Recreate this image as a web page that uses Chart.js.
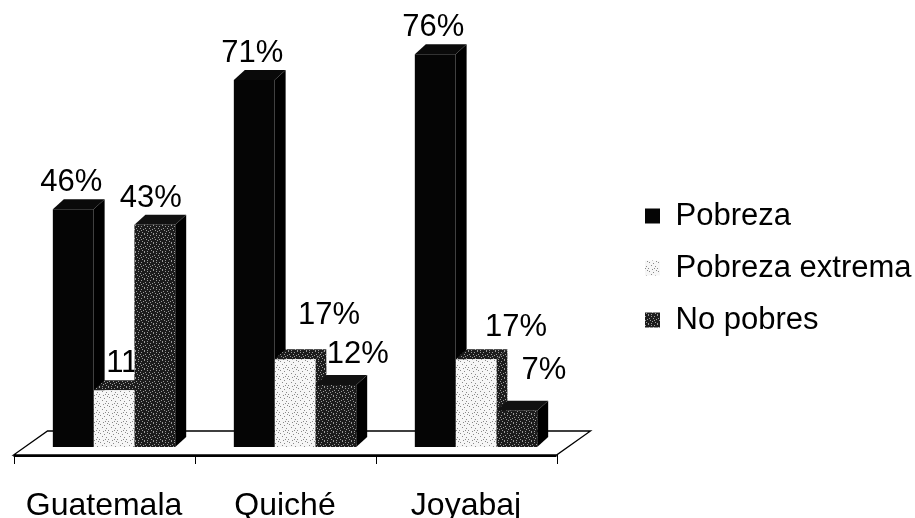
<!DOCTYPE html>
<html>
<head>
<meta charset="utf-8">
<script src="https://cdn.jsdelivr.net/npm/chart.js@4/dist/chart.umd.min.js"></script>
<style>
html,body{margin:0;padding:0;background:#fff;}
#wrap{width:915px;height:518px;}
</style>
</head>
<body>
<div id="wrap"><canvas id="c" width="915" height="518"></canvas></div>
<script>
// ---- data ----
const categories = ['Guatemala', 'Quiché', 'Joyabaj'];
const seriesNames = ['Pobreza', 'Pobreza extrema', 'No pobres'];
const pobreza = [46, 71, 76];
const pobrezaExtrema = [11, 17, 17];
const noPobres = [43, 12, 7];
const yMin = 0;
const yMax = 83;

// ---- textures ----
function makePattern(base, dot, pts) {
  const c = document.createElement('canvas');
  c.width = 9; c.height = 9;
  const g = c.getContext('2d');
  g.fillStyle = base; g.fillRect(0, 0, 9, 9);
  g.fillStyle = dot;
  pts.forEach(p => g.fillRect(p[0], p[1], 1, 1));
  return g.createPattern(c, 'repeat');
}
const lightDots = [[1,1],[5,2],[3,4],[7,5],[0,7],[4,8],[8,0],[6,7]];
const darkDots = [[0,0],[3,1],[6,1],[1,3],[5,3],[8,4],[2,5],[4,6],[7,7],[0,8],[6,5],[3,8]];
const lightPat = makePattern('#f6f6f6', '#8a8a8a', lightDots);
const darkPat = makePattern('#1c1c1c', '#9a9a9a', darkDots);

const FONT = "'Liberation Sans', Arial, Helvetica, sans-serif";

// ---- 3D faces, floor and value labels ----
const DX = 11, DY = 10;
const threeD = {
  id: 'threeD',
  beforeDatasetsDraw(chart, args, opts) {
    const {ctx, chartArea} = chart;
    const {left, right, bottom} = chartArea;
    const n = chart.data.labels.length;
    const fF = bottom + 8, fB = bottom - 16, o1 = -10, o2 = 24;
    ctx.save();
    ctx.beginPath();
    ctx.moveTo(left + o1, fF);
    ctx.lineTo(right + o1, fF);
    ctx.lineTo(right + o2, fB);
    ctx.lineTo(left + o2, fB);
    ctx.closePath();
    ctx.fillStyle = '#fff';
    ctx.fill();
    ctx.lineWidth = 1.3;
    ctx.strokeStyle = '#000';
    ctx.stroke();
    ctx.beginPath();
    ctx.lineWidth = 2.2;
    ctx.moveTo(left + o1, fF + 1);
    ctx.lineTo(right + o1, fF + 1);
    ctx.stroke();
    ctx.lineWidth = 1;
    const step = (right - left) / n;
    for (let i = 0; i <= n; i++) {
      const x = Math.round(left + o1 + i * step) + 0.5;
      ctx.beginPath();
      ctx.moveTo(x, fF);
      ctx.lineTo(x, fF + 9);
      ctx.stroke();
    }
    // side and top faces, category by category, left to right
    const metas = chart.data.datasets.map((d, i) => chart.getDatasetMeta(i));
    for (let j = 0; j < n; j++) {
      metas.forEach((meta, di) => {
        const el = meta.data[j];
        if (!el) return;
        const l = el.x - el.width / 2, r = el.x + el.width / 2, t = el.y, b = el.base;
        const st = opts.faces[di];
        ctx.beginPath();
        ctx.moveTo(r, t); ctx.lineTo(r + DX, t - DY); ctx.lineTo(r + DX, b - DY); ctx.lineTo(r, b);
        ctx.closePath();
        ctx.fillStyle = st.side; ctx.fill();
        ctx.beginPath();
        ctx.moveTo(l, t); ctx.lineTo(l + DX, t - DY); ctx.lineTo(r + DX, t - DY); ctx.lineTo(r, t);
        ctx.closePath();
        ctx.fillStyle = st.top; ctx.fill();
      });
    }
    ctx.restore();
  },
  afterDatasetsDraw(chart, args, opts) {
    const {ctx} = chart;
    const metas = chart.data.datasets.map((d, i) => chart.getDatasetMeta(i));
    ctx.save();
    ctx.font = opts.fontSize + 'px ' + FONT;
    ctx.textAlign = 'center';
    ctx.textBaseline = 'alphabetic';
    metas.forEach((meta, di) => {
      meta.data.forEach((el, j) => {
        const v = chart.data.datasets[di].data[j];
        const txt = v + '%';
        const x = el.x + opts.shiftX[di][j];
        const y = el.y - opts.gapY[di][j];
        ctx.save();
        // hide the part of the label that lies behind fronts of later bars
        ctx.beginPath();
        ctx.rect(0, 0, chart.width, chart.height);
        for (let k = di + 1; k < metas.length; k++) {
          const o = metas[k].data[j];
          ctx.rect(o.x - o.width / 2, o.y, o.width, o.base - o.y);
        }
        ctx.clip('evenodd');
        const w = ctx.measureText(txt).width;
        ctx.fillStyle = '#fff';
        ctx.fillRect(x - w / 2, y - opts.fontSize * 0.75, w, opts.fontSize * 0.8);
        ctx.fillStyle = '#000';
        ctx.fillText(txt, x, y);
        ctx.restore();
      });
    });
    ctx.restore();
  }
};

Chart.defaults.font.family = FONT;
Chart.defaults.color = '#000';

new Chart(document.getElementById('c').getContext('2d'), {
  type: 'bar',
  data: {
    labels: categories,
    datasets: [
      {label: seriesNames[0], data: pobreza, backgroundColor: '#050505', borderWidth: 0},
      {label: seriesNames[1], data: pobrezaExtrema, backgroundColor: lightPat, borderWidth: 0},
      {label: seriesNames[2], data: noPobres, backgroundColor: darkPat, borderWidth: 0}
    ]
  },
  options: {
    responsive: false,
    animation: false,
    layout: {padding: {left: 22.5, top: 18, right: 0, bottom: 0}},
    datasets: {bar: {categoryPercentage: 0.676, barPercentage: 1}},
    scales: {
      x: {
        grid: {display: false},
        border: {display: false},
        ticks: {font: {size: 32}, color: '#000', padding: 32, labelOffset: -10, maxRotation: 0},
        afterFit(s) { s.height = 71; }
      },
      y: {
        position: 'right',
        min: yMin,
        max: yMax,
        grid: {display: false},
        border: {display: false},
        ticks: {display: false},
        afterFit(s) { s.width = 57.5; }
      }
    },
    plugins: {
      legend: {
        position: 'right',
        align: 'center',
        maxWidth: 291,
        labels: {font: {size: 31}, color: '#000', boxWidth: 15, boxHeight: 15, padding: 21}
      },
      tooltip: {enabled: false},
      threeD: {
        fontSize: 31,
        faces: [
          {side: '#000', top: '#0a0a0a'},
          {side: darkPat, top: darkPat},
          {side: '#000', top: '#111'}
        ],
        shiftX: [[-2, -2, -2], [22, 34, 40], [-4, 22, 27]],
        gapY: [[18, 18, 18], [18, 35, 23], [18, 22, 32]]
      }
    }
  },
  plugins: [threeD]
});
</script>
</body>
</html>
